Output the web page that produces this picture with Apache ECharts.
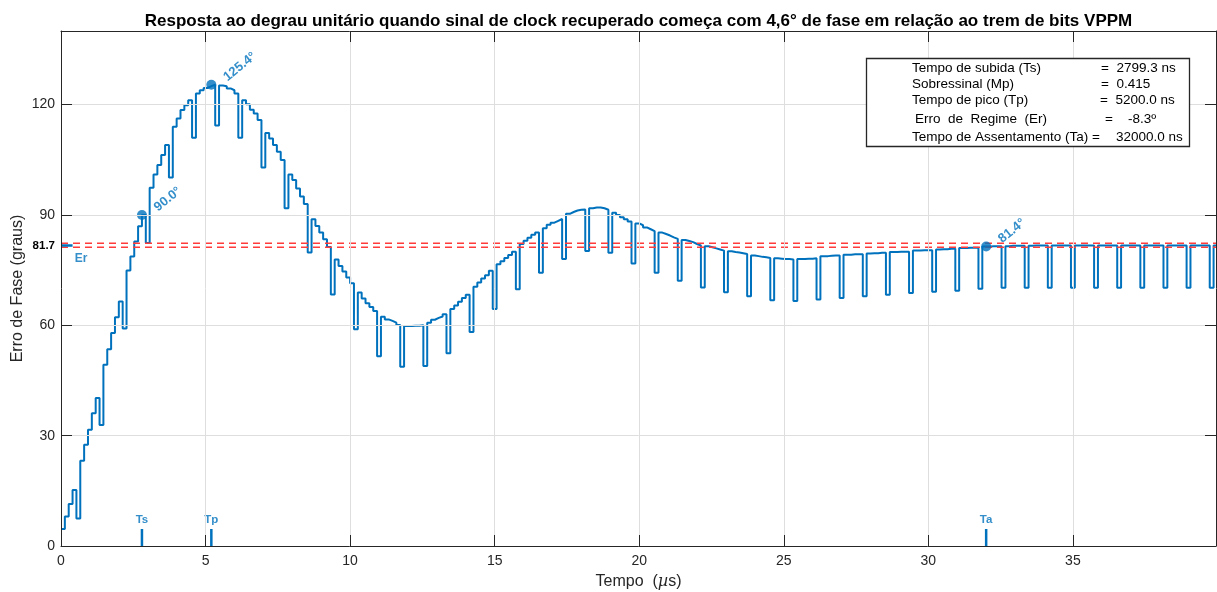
<!DOCTYPE html>
<html>
<head>
<meta charset="utf-8">
<script src="https://cdn.jsdelivr.net/npm/echarts@6/dist/echarts.min.js"></script>
<style>
html,body{margin:0;padding:0;background:#fff;}
#c{width:1217px;height:592px;}
</style>
</head>
<body>
<div id="c"></div>
<script>
// ---------------- data ----------------
// one sample every 0.8/6 µs (6 samples per VPPM bit), values in degrees
const sampleStep = 0.8 / 6;
const phaseError = [
  4.6, 8.0, 11.4, 15.2, 7.5, 23.2,
  27.5, 31.6, 36.1, 40.2, 32.9, 49.3,
  53.5, 57.9, 62.2, 66.5, 59.1, 74.9,
  78.7, 82.8, 86.9, 90.0, 82.4, 97.4,
  101.0, 103.6, 106.3, 109.0, 100.2, 114.0,
  116.2, 118.5, 119.8, 121.2, 111.0, 123.0,
  123.9, 124.5, 125.0, 125.4, 114.3, 125.2,
  125.0, 124.4, 123.9, 123.0, 111.0, 121.2,
  120.1, 118.6, 117.6, 115.8, 102.9, 112.3,
  110.8, 109.0, 107.2, 104.9, 91.8, 101.0,
  99.5, 97.2, 95.0, 93.0, 79.8, 88.8,
  87.0, 85.2, 83.4, 81.3, 68.4, 77.9,
  76.1, 74.6, 73.0, 71.4, 58.9, 68.9,
  67.3, 66.0, 65.0, 63.9, 51.6, 62.3,
  61.6, 61.2, 60.7, 60.1, 48.7, 59.8,
  59.8, 59.9, 59.9, 60.0, 48.9, 60.7,
  61.5, 62.0, 62.4, 63.0, 52.4, 64.4,
  65.4, 66.4, 67.4, 68.3, 58.2, 70.5,
  71.6, 72.7, 73.6, 74.8, 64.4, 76.6,
  77.4, 78.3, 79.1, 80.0, 69.8, 82.1,
  83.0, 83.8, 84.6, 85.2, 74.3, 86.4,
  87.3, 87.9, 88.4, 88.9, 78.0, 90.3,
  90.8, 91.2, 91.4, 91.5, 80.2, 91.8,
  92.0, 92.0, 91.8, 91.4, 79.7, 90.6,
  90.0, 89.4, 88.8, 88.2, 76.8, 87.7,
  87.2, 86.6, 86.1, 85.6, 74.3, 85.2,
  84.8, 84.4, 83.9, 83.5, 72.1, 83.2,
  82.9, 82.6, 82.1, 81.7, 70.3, 81.5,
  81.2, 80.9, 80.6, 80.3, 69.0, 80.1,
  79.9, 79.8, 79.6, 79.4, 67.9, 79.0,
  78.8, 78.6, 78.5, 78.3, 66.8, 78.2,
  78.1, 78.0, 78.0, 77.9, 66.6, 78.0,
  78.0, 78.1, 78.1, 78.2, 67.0, 78.8,
  78.8, 78.9, 79.0, 79.0, 67.4, 79.2,
  79.2, 79.3, 79.3, 79.3, 67.9, 79.5,
  79.6, 79.6, 79.7, 79.7, 68.3, 79.9,
  79.9, 80.0, 80.0, 80.0, 68.8, 80.3,
  80.3, 80.4, 80.4, 80.4, 69.1, 80.6,
  80.7, 80.7, 80.8, 80.8, 69.4, 81.0,
  81.0, 81.1, 81.1, 81.1, 69.9, 81.4,
  81.4, 81.5, 81.5, 81.5, 70.2, 81.5,
  81.6, 81.6, 81.6, 81.6, 70.2, 81.6,
  81.7, 81.7, 81.7, 81.7, 70.2, 81.7,
  81.7, 81.7, 81.7, 81.7, 70.2, 81.7,
  81.7, 81.7, 81.7, 81.7, 70.2, 81.7,
  81.7, 81.7, 81.7, 81.7, 70.2, 81.7,
  81.7, 81.7, 81.7, 81.7, 70.2, 81.7,
  81.7, 81.7, 81.7, 81.7, 70.2, 81.7,
  81.7, 81.7, 81.7, 81.7, 70.2, 81.7,
  81.7, 81.7, 81.7, 81.7, 70.2, 81.7
];
const xTickValues = [0, 5, 10, 15, 20, 25, 30, 35];
const yTickValues = [0, 30, 60, 90, 120];
const steadyValue = 81.7;            // Er reference level
const bandValues = [82.3, 81.2];     // red dashed band
const erMarkEnd = 0.4;               // short blue Er mark length (µs)
const initialPhase = 4.6;            // height of Ts/Tp/Ta marks
const eventNames = ['Ts', 'Tp', 'Ta'];
const eventTimes = [2.8, 5.2, 32.0];
const eventValues = [90.0, 125.4, 81.4];
const summaryNames = ['Tempo de subida (Ts)', 'Sobressinal (Mp)', 'Tempo de pico (Tp)', 'Erro  de  Regime  (Er)', 'Tempo de Assentamento (Ta) ='];
const summaryValues = ['=  2799.3 ns', '=  0.415', '=  5200.0 ns', '=    -8.3º', '32000.0 ns'];

// ---------------- chart ----------------
const FONT = '"Liberation Sans", Arial, Helvetica, sans-serif';
const BLUE = '#0072BD';
const AX = '#262626';
const GRIDC = '#dedede';

const stairs = phaseError.map((v, k) => [k * sampleStep, v]);
stairs.push([phaseError.length * sampleStep, phaseError[phaseError.length - 1]]);

const X_MAX = 39.95, Y_MAX = 140;

const series = [
  {
    type: 'line', name: 'erro', data: stairs, step: 'end', showSymbol: false, symbol: 'none',
    lineStyle: { color: BLUE, width: 2 }, z: 3, clip: true, silent: true
  }
];
bandValues.forEach(b => series.push({
  type: 'line', data: [[0, b], [X_MAX, b]], symbol: 'none',
  lineStyle: { color: '#ff3b3b', width: 1.4, type: [7, 5] }, z: 4, silent: true
}));
series.push({
  type: 'line', data: [[0, steadyValue], [erMarkEnd, steadyValue]], symbol: 'none',
  lineStyle: { color: BLUE, width: 2.5 }, z: 5, silent: true
});
eventTimes.forEach(t => series.push({
  type: 'line', data: [[t, 0], [t, initialPhase]], symbol: 'none',
  lineStyle: { color: BLUE, width: 2.5 }, z: 5, silent: true
}));
// Ts / Tp / Ta text
series.push({
  type: 'scatter', symbolSize: 1, itemStyle: { color: 'rgba(0,0,0,0)' }, z: 6, silent: true,
  data: eventTimes.map((t, i) => ({ value: [t, initialPhase], name: eventNames[i] })),
  label: { show: true, position: 'top', distance: 3, formatter: p => p.name,
    color: BLUE, fontWeight: 'bold', fontSize: 11.5, fontFamily: FONT }
});
// Er text
series.push({
  type: 'scatter', symbolSize: 1, itemStyle: { color: 'rgba(0,0,0,0)' }, z: 6, silent: true,
  data: [{ value: [erMarkEnd, steadyValue], name: 'Er' }],
  label: { show: true, position: [9, 14], formatter: p => p.name, align: 'center', verticalAlign: 'middle',
    color: BLUE, fontWeight: 'bold', fontSize: 12, fontFamily: FONT }
});
// event markers with rotated value labels
series.push({
  type: 'scatter', symbol: 'circle', symbolSize: 10, itemStyle: { color: BLUE }, z: 7, silent: true,
  data: eventTimes.map((t, i) => [t, eventValues[i]]),
  label: { show: true, position: [23, 4], rotate: 39, align: 'left', verticalAlign: 'bottom',
    formatter: p => p.value[1].toFixed(1) + '°',
    color: BLUE, fontWeight: 'bold', fontSize: 13, fontFamily: FONT }
});

const graphics = [
  { type: 'rect', shape: { x: 866.5, y: 58.5, width: 323, height: 88 },
    style: { fill: '#fff', stroke: AX, lineWidth: 1.3 }, z: 100 }
];
const rowY = [68.5, 84, 100.5, 119.5, 137];
const nameX = [912, 912, 912, 915, 912];
const valX = [1101, 1101, 1100, 1105, 1116];
summaryNames.forEach((s, i) => {
  graphics.push({ type: 'text', z: 101, style: { text: s, x: nameX[i], y: rowY[i], fill: '#000',
    font: '13.5px ' + FONT, textAlign: 'left', textVerticalAlign: 'middle', align: 'left', verticalAlign: 'middle' } });
  graphics.push({ type: 'text', z: 101, style: { text: summaryValues[i], x: valX[i], y: rowY[i], fill: '#000',
    font: '13.5px ' + FONT, textAlign: 'left', textVerticalAlign: 'middle', align: 'left', verticalAlign: 'middle' } });
});

function axisCommon(ticks) {
  return {
    axisLine: { show: true, onZero: false, lineStyle: { color: AX, width: 1 } },
    axisTick: { show: true, inside: true, length: 11, customValues: ticks, lineStyle: { color: AX, width: 1 } }
  };
}

const option = {
  backgroundColor: '#fff',
  animation: false,
  textStyle: { fontFamily: FONT },
  title: {
    text: 'Resposta ao degrau unitário quando sinal de clock recuperado começa com 4,6° de fase em relação ao trem de bits VPPM',
    left: 633.5, top: 8, textAlign: 'center',
    textStyle: { fontFamily: FONT, fontSize: 17, fontWeight: 'bold', color: '#000' }
  },
  grid: { left: 61, right: 1, top: 31, bottom: 46, containLabel: false, outerBoundsMode: 'none' },
  xAxis: [
    Object.assign({
      type: 'value', min: 0, max: X_MAX, interval: 5, position: 'bottom', z: 10,
      name: '{n|Tempo  (}{i|µ}{n|s)}', nameLocation: 'middle', nameGap: 28, nameMoveOverlap: false,
      nameTextStyle: { rich: { n: { fontSize: 16, color: AX, fontFamily: FONT }, i: { fontSize: 16, color: AX, fontStyle: 'italic', fontFamily: 'DejaVu Serif, serif' } } },
      axisLabel: { customValues: xTickValues, color: AX, fontSize: 14, fontFamily: FONT, margin: 8 },
      splitLine: { show: true, lineStyle: { color: GRIDC, width: 1 } }
    }, axisCommon(xTickValues)),
    Object.assign({
      type: 'value', min: 0, max: X_MAX, interval: 5, position: 'top', z: 10,
      axisLabel: { show: false }, splitLine: { show: false }
    }, axisCommon(xTickValues))
  ],
  yAxis: [
    Object.assign({
      type: 'value', min: 0, max: Y_MAX, interval: 30, position: 'left', z: 10,
      name: 'Erro de Fase (graus)', nameLocation: 'middle', nameGap: 35, nameMoveOverlap: false,
      nameTextStyle: { fontSize: 16, color: AX, fontFamily: FONT },
      axisLabel: {
        customValues: yTickValues.concat([steadyValue]), color: AX, fontSize: 14, fontFamily: FONT, margin: 6,
        formatter: v => (Math.abs(v - steadyValue) < 1e-6 ? '{b|' + steadyValue.toFixed(1) + '}' : String(v)),
        rich: { b: { fontWeight: 'bold', fontSize: 11.5, color: '#000', fontFamily: FONT } }
      },
      splitLine: { show: true, lineStyle: { color: GRIDC, width: 1 } }
    }, axisCommon(yTickValues)),
    Object.assign({
      type: 'value', min: 0, max: Y_MAX, interval: 30, position: 'right', z: 10,
      axisLabel: { show: false }, splitLine: { show: false }
    }, axisCommon(yTickValues))
  ],
  series: series,
  graphic: graphics
};

const chart = echarts.init(document.getElementById('c'));
chart.setOption(option);
</script>
</body>
</html>
